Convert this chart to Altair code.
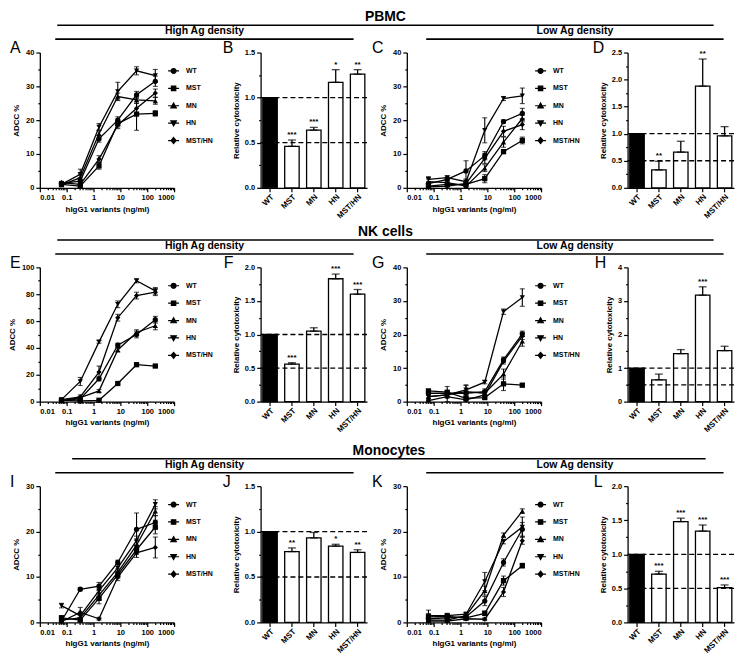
import altair as alt
import pandas as pd

FONT = "Liberation Sans"

CONC = [0.064, 0.32, 1.6, 8, 40, 200]
VARIANTS = ["WT", "MST", "MN", "HN", "MST/HN"]

# ---- line panels: mean ADCC % and error (per variant, per concentration) ----
A_MEAN = {"WT": [1.3, 2.0, 14.5, 20.0, 27.5, 31.5], "MST": [1.0, 0.5, 6.5, 19.0, 21.8, 22.0],
          "MN": [0.8, 3.0, 16.0, 27.0, 26.0, 25.7], "HN": [1.0, 4.0, 18.0, 28.5, 34.6, 33.2],
          "MST/HN": [1.5, 1.0, 8.5, 18.5, 23.5, 28.0]}
A_ERR = {"WT": [0.5, 1.0, 1.0, 1.0, 1.0, 1.5], "MST": [0.5, 0.5, 1.0, 1.0, 4.8, 0.8],
         "MN": [0.4, 1.0, 1.0, 1.0, 1.0, 1.0], "HN": [0.4, 1.5, 1.0, 2.7, 1.2, 1.8],
         "MST/HN": [0.4, 0.5, 1.0, 1.0, 1.5, 1.2]}

C_MEAN = {"WT": [1.2, 2.5, 5.0, 9.5, 19.6, 22.0], "MST": [0.5, 1.0, 1.0, 2.7, 10.7, 14.0],
          "MN": [1.8, 1.5, 0.5, 5.8, 13.5, 20.5], "HN": [2.5, 3.0, 1.8, 17.0, 26.4, 27.2],
          "MST/HN": [0.3, 0.5, 1.2, 8.7, 16.7, 18.7]}
C_ERR = {"WT": [0.5, 0.5, 3.0, 1.2, 0.5, 1.5], "MST": [0.5, 0.5, 0.5, 1.2, 0.6, 1.0],
         "MN": [0.8, 0.5, 0.5, 1.0, 1.5, 1.0], "HN": [0.8, 0.5, 0.8, 3.7, 0.6, 2.3],
         "MST/HN": [0.3, 0.3, 0.5, 1.5, 1.5, 1.5]}

E_MEAN = {"WT": [1.0, 2.0, 17.0, 42.0, 50.0, 61.0], "MST": [1.0, 0.5, 1.0, 13.5, 27.5, 26.5],
          "MN": [0.5, 3.0, 8.0, 38.5, 51.5, 56.5], "HN": [1.5, 15.0, 44.5, 72.5, 90.0, 82.5],
          "MST/HN": [1.5, 3.5, 22.0, 62.5, 79.0, 81.5]}
E_ERR = {"WT": [0.5, 0.8, 1.5, 1.5, 2.5, 2.5], "MST": [0.3, 0.3, 0.5, 0.8, 0.8, 0.8],
         "MN": [0.3, 0.8, 1.0, 1.5, 2.0, 3.0], "HN": [0.5, 3.0, 1.0, 2.5, 1.5, 2.5],
         "MST/HN": [0.5, 1.5, 4.5, 2.5, 2.5, 2.5]}

G_MEAN = {"WT": [2.5, 2.5, 2.5, 3.0, 12.5, 20.2], "MST": [3.2, 2.8, 1.0, 1.2, 5.3, 4.9],
          "MN": [1.5, 2.0, 3.0, 2.5, 8.2, 18.0], "HN": [1.5, 2.0, 3.5, 5.8, 26.8, 31.0],
          "MST/HN": [0.3, 1.5, 0.5, 2.0, 12.0, 19.5]}
G_ERR = {"WT": [0.5, 0.5, 0.8, 0.8, 0.8, 0.8], "MST": [0.4, 0.5, 0.5, 0.5, 2.0, 0.5],
         "MN": [0.5, 0.5, 1.8, 0.8, 1.5, 1.5], "HN": [0.5, 2.5, 1.5, 0.5, 0.8, 2.6],
         "MST/HN": [0.3, 0.5, 0.5, 0.8, 0.8, 1.0]}

I_MEAN = {"WT": [0.3, 7.3, 8.0, 13.2, 20.5, 22.0], "MST": [1.0, 0.5, 5.3, 10.5, 16.0, 21.0],
          "MN": [0.5, 1.0, 6.0, 11.0, 17.0, 24.5], "HN": [3.7, 1.5, 7.0, 12.0, 18.0, 26.0],
          "MST/HN": [0.2, 2.2, 0.8, 10.0, 15.3, 16.5]}
I_ERR = {"WT": [0.3, 0.3, 0.8, 0.5, 3.6, 1.5], "MST": [0.5, 0.3, 1.2, 0.8, 1.0, 1.5],
         "MN": [0.3, 0.5, 1.0, 0.8, 1.0, 1.0], "HN": [0.5, 0.5, 0.8, 0.8, 1.0, 1.0],
         "MST/HN": [0.2, 1.1, 0.3, 0.8, 1.0, 2.3]}

K_MEAN = {"WT": [0.8, 1.0, 1.2, 4.7, 13.2, 20.5], "MST": [1.2, 1.3, 1.0, 2.0, 9.2, 12.5],
          "MN": [0.5, 0.5, 1.5, 7.0, 19.2, 24.5], "HN": [1.5, 1.5, 1.8, 9.0, 17.8, 21.0],
          "MST/HN": [0.3, 0.3, 0.8, 0.7, 6.7, 18.0]}
K_ERR = {"WT": [0.5, 0.5, 0.5, 1.0, 0.8, 1.5], "MST": [0.5, 0.5, 0.5, 0.5, 1.0, 0.5],
         "MN": [0.3, 0.3, 0.5, 1.0, 0.5, 0.5], "HN": [1.2, 0.5, 0.5, 2.0, 0.5, 2.2],
         "MST/HN": [0.3, 0.3, 0.3, 0.3, 1.0, 0.8]}

# ---- bar panels: relative cytotoxicity, error, significance ----
B_MEAN = [1.0, 0.46, 0.64, 1.17, 1.26]
B_ERR = [0, 0.07, 0.03, 0.14, 0.05]
B_SIG = ["", "***", "***", "*", "**"]
D_MEAN = [1.0, 0.33, 0.66, 1.88, 0.96]
D_ERR = [0, 0.16, 0.20, 0.50, 0.17]
D_SIG = ["", "**", "", "**", ""]
F_MEAN = [1.0, 0.56, 1.05, 1.83, 1.60]
F_ERR = [0, 0.02, 0.05, 0.07, 0.07]
F_SIG = ["", "***", "", "***", "***"]
H_MEAN = [1.0, 0.65, 1.43, 3.17, 1.52]
H_ERR = [0, 0.17, 0.12, 0.25, 0.13]
H_SIG = ["", "", "", "***", ""]
J_MEAN = [1.0, 0.78, 0.93, 0.84, 0.77]
J_ERR = [0, 0.04, 0.06, 0.02, 0.03]
J_SIG = ["", "**", "", "*", "**"]
L_MEAN = [1.0, 0.71, 1.48, 1.34, 0.51]
L_ERR = [0, 0.04, 0.05, 0.09, 0.04]
L_SIG = ["", "***", "***", "***", "***"]
REF_LINES = [0.5, 1.0]

SHAPES = ["circle", "square", "triangle-up", "triangle-down", "diamond"]
LEGEND_SYMBOLS = [
    "M-1,0H1M0.45,0A0.45,0.45,0,1,1,-0.45,0A0.45,0.45,0,1,1,0.45,0Z",
    "M-1,0H1M-0.4,-0.4H0.4V0.4H-0.4Z",
    "M-1,0H1M0,-0.5L0.5,0.4H-0.5Z",
    "M-1,0H1M0,0.5L0.5,-0.4H-0.5Z",
    "M-1,0H1M0,-0.55L0.45,0L0,0.55L-0.45,0Z",
]

LINE_W = 135
BAR_W = 107
ONE = pd.DataFrame({"k": [0]})

X_MAJOR = [0.01, 0.1, 1.0, 10.0, 100.0, 1000.0]
X_MINOR = [m * 10.0 ** k for k in range(-2, 3) for m in range(2, 10)]


def y_values(ymax, step):
    n = int(round(ymax / step))
    major = [round(i * step, 6) for i in range(n + 1)]
    minor = [round((i + 0.5) * step, 6) for i in range(n)]
    return major, minor


def letter_title(letter, dx):
    return alt.TitleParams(letter, anchor="start", frame="group", dx=dx, dy=25, offset=17.5,
                           fontSize=16, fontWeight="normal", font=FONT, color="black")


def minor_axis(values, orient):
    return alt.Axis(values=values, orient=orient, labels=False, domain=False, ticks=True,
                    tickSize=2, title=None, grid=False)


def line_panel(letter, dx, mean, err, ymax, ystep, height):
    rows = []
    for v in VARIANTS:
        for c, m, e in zip(CONC, mean[v], err[v]):
            rows.append({"conc": c, "variant": v, "adcc": m, "lo": max(m - e, 0), "hi": m + e})
    df = pd.DataFrame(rows)
    ymaj, ymin = y_values(ymax, ystep)
    xsc = alt.Scale(type="log", domain=[0.01, 1000], nice=False)
    ysc = alt.Scale(domain=[0, ymax], nice=False)
    xax = alt.Axis(values=X_MAJOR, format="~g", labelOverlap=False, orient="bottom", tickSize=4,
                   title="hIgG1 variants (ng/ml)", titlePadding=4, labelPadding=2)
    yax = alt.Axis(values=ymaj, format="d", labelOverlap=False, orient="left", tickSize=4,
                   title="ADCC %", titlePadding=5, labelPadding=2)
    base = alt.Chart(df)
    xn = alt.X("conc:Q", scale=xsc, axis=None)
    yn = alt.Y("adcc:Q", scale=ysc, axis=None)
    lines = base.mark_line(color="black", strokeWidth=1.3).encode(
        x=xn, y=alt.Y("adcc:Q", scale=ysc, axis=minor_axis(ymin, "left")), detail="variant:N")
    bars = base.mark_errorbar(ticks=True, size=5, thickness=1.1, color="black").encode(
        x=alt.X("conc:Q", scale=xsc, axis=minor_axis(X_MINOR, "bottom")),
        y=alt.Y("lo:Q", scale=ysc, axis=None), y2="hi")
    pts = base.mark_point(filled=True, size=28, color="black", opacity=1).encode(
        x=alt.X("conc:Q", scale=xsc, axis=xax),
        y=alt.Y("adcc:Q", scale=ysc, axis=yax),
        shape=alt.Shape("variant:N", scale=alt.Scale(domain=VARIANTS, range=SHAPES), legend=None))
    leg = base.transform_filter("false").mark_point(
        filled=False, color="black", fill="black", strokeWidth=1.2, opacity=1).encode(
        x=xn, y=yn,
        shape=alt.Shape("variant:N", scale=alt.Scale(domain=VARIANTS, range=LEGEND_SYMBOLS),
                        legend=alt.Legend(orient="none", legendX=128, legendY=12, title=None,
                                          symbolSize=121, symbolStrokeWidth=1.2,
                                          labelFont=FONT, labelFontSize=7,
                                          labelFontWeight="bold", labelColor="black",
                                          labelOffset=6, rowPadding=5.5, padding=0)))
    return alt.layer(lines, bars, pts, leg).resolve_scale(shape="independent").resolve_axis(
        x="independent", y="independent").properties(
        width=LINE_W, height=height, title=letter_title(letter, dx))


def bar_panel(letter, dx, mean, err, sig, ymax, ystep, fmt, height):
    df = pd.DataFrame({"variant": VARIANTS, "rel": mean, "err": err, "sig": sig})
    df["top"] = df["rel"] + df["err"]
    ymaj, ymin = y_values(ymax, ystep)
    xsc = alt.Scale(domain=VARIANTS, paddingInner=0.34, paddingOuter=0.1)
    ysc = alt.Scale(domain=[0, ymax], nice=False)
    xax = alt.Axis(title=None, labelAngle=-45, tickSize=4, labelPadding=1, labelFontSize=8,
                   orient="bottom")
    yax = alt.Axis(values=ymaj, format=fmt, labelOverlap=False, orient="left", tickSize=4,
                   title="Relative cytotoxicity", titlePadding=4, labelPadding=2)
    base = alt.Chart(df)
    xa = alt.X("variant:N", scale=xsc, axis=xax)
    bars = base.mark_bar(stroke="black", strokeWidth=1.3).encode(
        x=xa, y=alt.Y("rel:Q", scale=ysc, axis=yax),
        fill=alt.condition("datum.variant == 'WT'", alt.value("black"), alt.value("white")))
    eb = base.transform_filter("datum.err > 0").mark_errorbar(
        ticks=True, size=8, thickness=1.3, color="black").encode(
        x=xa, y=alt.Y("rel:Q", scale=ysc, axis=None), y2="top")
    refs = alt.Chart(pd.DataFrame({"ref": REF_LINES})).mark_rule(
        color="black", strokeDash=[5, 3], strokeWidth=1.3).encode(
        y=alt.Y("ref:Q", scale=ysc, axis=minor_axis(ymin, "left")))
    stars = base.mark_text(baseline="bottom", dy=-1, font=FONT, fontSize=8, fontWeight="bold",
                           color="black").encode(
        x=xa, y=alt.Y("top:Q", scale=ysc, axis=None), text="sig:N")
    return alt.layer(bars, eb, refs, stars).resolve_axis(y="independent").properties(
        width=BAR_W, height=height, title=letter_title(letter, dx))


def spacer(width, height=1):
    return alt.Chart(ONE).mark_point(opacity=0, size=1).properties(width=width, height=height)


def header(text, width, fs, pad):
    # the header line is the domain of a top axis; the header text is that axis' title
    return alt.Chart(ONE).mark_point(opacity=0, size=1).encode(
        x=alt.X("k:Q", scale=alt.Scale(domain=[0, 1]),
                axis=alt.Axis(orient="top", title=text, ticks=False, labels=False, grid=False,
                              domain=True, domainWidth=1.6, domainColor="black",
                              titleFontSize=fs, titleFont=FONT, titleFontWeight="bold",
                              titleColor="black", titlePadding=pad))).properties(
        width=width, height=1)


def section(main_text, main_left, main_width, panels, height):
    main_row = alt.hconcat(spacer(main_left), header(main_text, main_width, 14, 1),
                           spacing=0, bounds="flush")
    sub_row = alt.hconcat(spacer(15), header("High Ag density", 300, 10.5, 3), spacer(73),
                          header("Low Ag density", 299, 10.5, 3), spacing=0, bounds="flush")
    p1, p2, p3, p4 = panels
    plot_row = alt.hconcat(p1, spacer(87, height), p2, spacer(40, height), p3,
                           spacer(87, height), p4, spacing=0, bounds="flush").resolve_scale(
        shape="independent").resolve_legend(shape="independent")
    inner = alt.vconcat(sub_row, plot_row, spacing=0).resolve_scale(
        shape="independent").resolve_legend(shape="independent")
    return alt.vconcat(main_row, inner, spacing=0).resolve_scale(
        shape="independent").resolve_legend(shape="independent")


H1, H2, H3 = 136, 135, 137

sec1 = section("PBMC", 17, 660, [
    line_panel("A", -30, A_MEAN, A_ERR, 40, 10, H1),
    bar_panel("B", -38, B_MEAN, B_ERR, B_SIG, 1.5, 0.5, ".1f", H1),
    line_panel("C", -35, C_MEAN, C_ERR, 40, 10, H1),
    bar_panel("D", -35, D_MEAN, D_ERR, D_SIG, 2.5, 0.5, ".1f", H1)], H1)
sec2 = section("NK cells", 17, 660, [
    line_panel("E", -30, E_MEAN, E_ERR, 100, 20, H2),
    bar_panel("F", -37, F_MEAN, F_ERR, F_SIG, 2.0, 0.5, ".1f", H2),
    line_panel("G", -35, G_MEAN, G_ERR, 40, 10, H2),
    bar_panel("H", -33, H_MEAN, H_ERR, H_SIG, 4, 1, "d", H2)], H2)
sec3 = section("Monocytes", 32, 637, [
    line_panel("I", -30, I_MEAN, I_ERR, 30, 10, H3),
    bar_panel("J", -38, J_MEAN, J_ERR, J_SIG, 1.5, 0.5, ".1f", H3),
    line_panel("K", -35, K_MEAN, K_ERR, 30, 10, H3),
    bar_panel("L", -34, L_MEAN, L_ERR, L_SIG, 2.0, 0.5, ".1f", H3)], H3)

top_two = alt.vconcat(sec1, sec2, spacing=4).resolve_scale(
    shape="independent").resolve_legend(shape="independent")

chart = alt.vconcat(top_two, sec3, spacing=9).resolve_scale(
    shape="independent").resolve_legend(shape="independent").properties(
    padding={"left": 0, "top": 0, "right": 0, "bottom": 0}
).configure_view(stroke=None).configure_axis(
    labelFont=FONT, labelFontSize=7.5, labelFontWeight="bold", labelColor="black",
    titleFont=FONT, titleFontSize=8, titleFontWeight="bold", titleColor="black",
    domainColor="black", domainWidth=1.3, tickColor="black", tickWidth=1.2, grid=False)

chart.save("out.html", embed_options={"renderer": "svg", "actions": False})
